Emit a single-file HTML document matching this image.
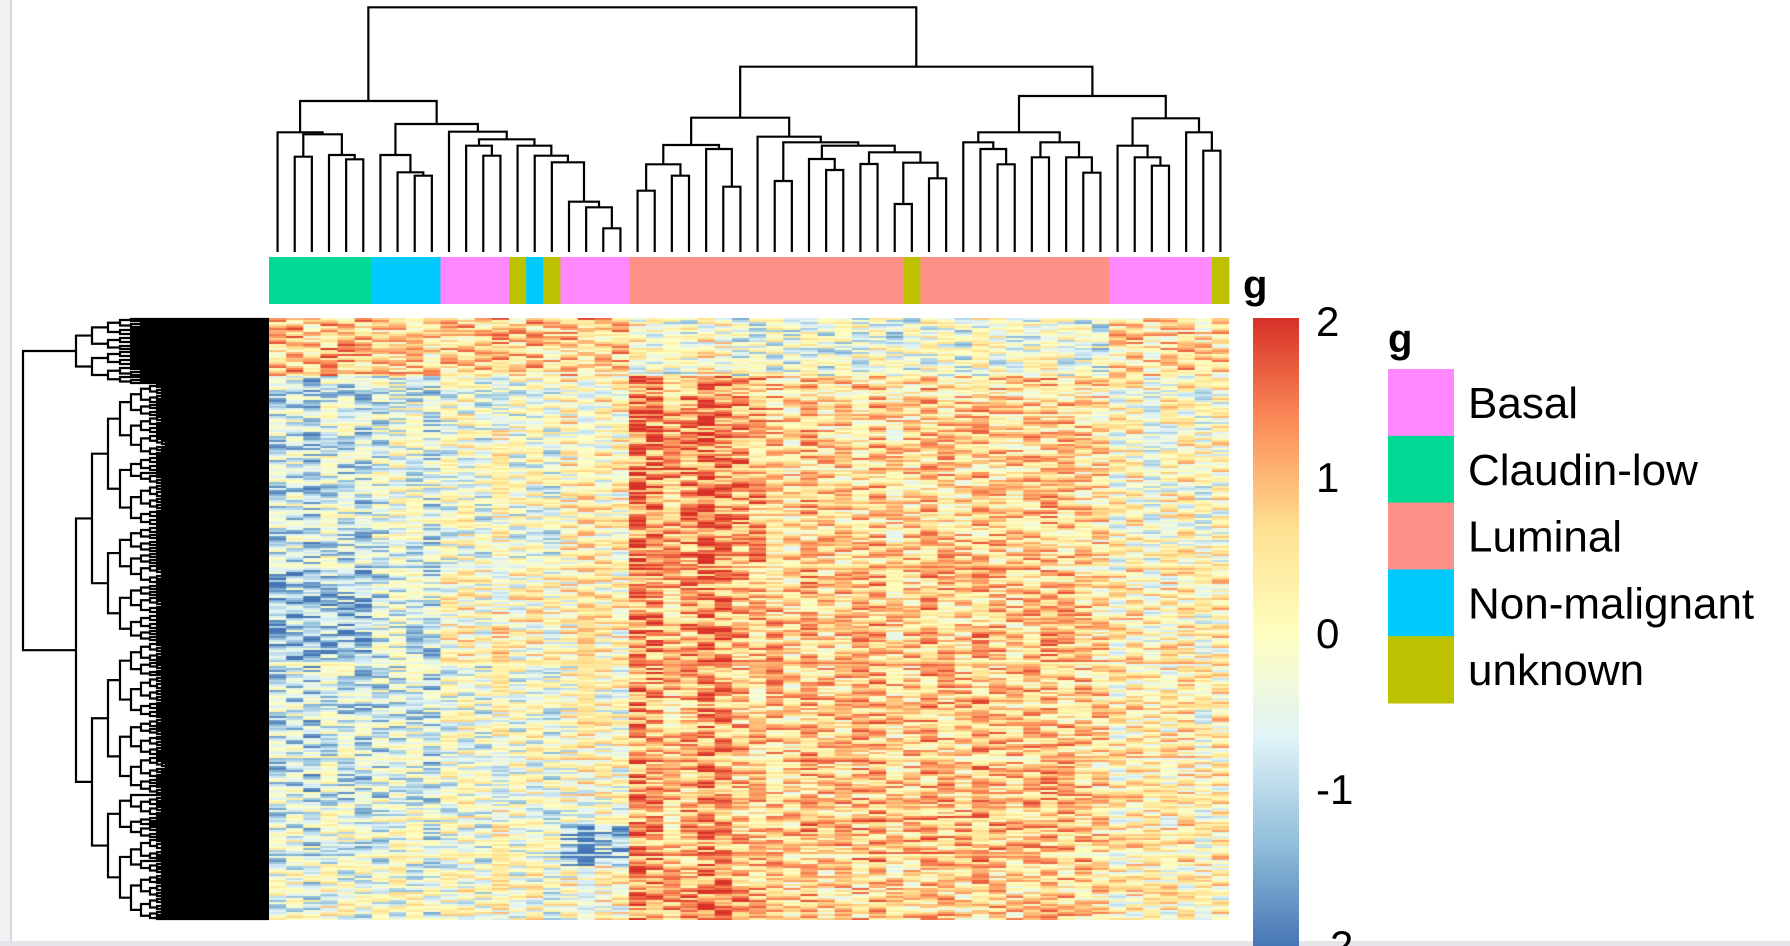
<!DOCTYPE html>
<html><head><meta charset="utf-8">
<style>
html,body{margin:0;padding:0;background:#fff;}
#wrap{position:relative;width:1790px;height:946px;overflow:hidden;background:#fff;font-family:"Liberation Sans",sans-serif;}
svg text{font-family:"Liberation Sans",sans-serif;}
</style></head>
<body>
<div id="wrap">
<canvas id="hm" width="960" height="602" style="position:absolute;left:269px;top:318px;"></canvas>
<svg id="sv" width="1790" height="946" style="position:absolute;left:0;top:0;">
  <defs>
    <linearGradient id="cbg" x1="0" y1="1" x2="0" y2="0">
      <stop offset="0" stop-color="#4575B4"/>
      <stop offset="0.1667" stop-color="#91BFDB"/>
      <stop offset="0.3333" stop-color="#E0F3F8"/>
      <stop offset="0.5" stop-color="#FFFFBF"/>
      <stop offset="0.6667" stop-color="#FEE090"/>
      <stop offset="0.8333" stop-color="#FC8D59"/>
      <stop offset="1" stop-color="#D73027"/>
    </linearGradient>
  </defs>
  <rect x="0" y="0" width="11" height="946" fill="#f1f2f4"/>
  <rect x="10" y="0" width="2" height="946" fill="#d6d7da"/>
  <rect x="0" y="941" width="1790" height="5" fill="#e4e5e8"/>
  <g id="coldendro"></g>
  <g id="rowdendro"></g>
  <g id="annot"></g>
  <text x="1243" y="298" font-size="40" font-weight="bold">g</text>
  <rect x="1253" y="318" width="46" height="630" fill="url(#cbg)"/>
  <g id="cbticks"></g>
  <text x="1388" y="352" font-size="40" font-weight="bold">g</text>
  <g id="legend"></g>
</svg>
</div>
<script>
// ---------- data ----------
const groupNames = ["Basal","Claudin-low","Luminal","Non-malignant","unknown"];
const groupColors = ["#FF88FF","#00DA95","#FD9087","#00CAFF","#BDC200"];
const colAnnot = [1,1,1,1,1,1, 3,3,3,3, 0,0,0,0, 4,3,4, 0,0,0,0,
  2,2,2,2,2,2,2,2,2,2,2,2,2,2,2,2, 4, 2,2,2,2,2,2,2,2,2,2,2, 0,0,0,0,0,0, 4];
const colCluster = ["A","A","A","A","A","A","B1","B1","B1","B1","B2","B2","B2","B2","B2","B2","B2","B3","B3","B3","B3",
  "C","C","C","C","C","C","C","C","D","D","D","D","D","D","D","D","D","D","D","D","D","D","D","D","D","D","D","D",
  "E","E","E","E","E","E","E"];
const colBoost = [0,0.1,-0.1,0.2,0.1,0,  -0.1,0.1,0,-0.2, 0,0.1,-0.1,0.2,0,0.1,-0.1, 0,0.1,0,0,
  0.3,0.2,-0.2,0.0,0.4,0.3,-0.1,-0.2, 0.1,-0.1,0.2,0,0,0.1,0.2,-0.1,0,0.2,0.1,0,0.2,0.1,0,0.1,0.2,0.1,0,-0.1,
  0,0.1,-0.1,0,0.1,-0.2,0];
const bandEdges = [0,0.097,0.42,0.57,0.80,0.84,0.91,1];
const bandMeans = {
  A:  [0.7,-0.8,-1.3,-0.8,-0.6,-0.6,-0.4],
  B1: [0.6,-0.5,-0.6,-0.6,-0.4,-0.4,-0.3],
  B2: [0.6,-0.3,0.0,-0.3,-0.3,-0.3,-0.2],
  B3: [0.7,0.1,0.1,-0.1,-0.2,-1.2,0.0],
  C:  [-0.3,1.1,0.9,0.8,0.8,0.8,1.0],
  D:  [-0.4,0.5,0.6,0.6,0.7,0.7,0.5],
  E:  [0.5,0.0,0.2,0.2,0.2,0.2,0.1]
};
const stripe = [0.5,-0.3,0.8,-0.6,0.1,0.9,-0.9,0.3,-0.2,0.6,-0.7,0.2,0.4,-0.4,1.0,-0.1,-0.8,0.7,0.0,-0.5,0.3,-1.0,0.5];
const cbTicks = [2,1,0,-1,-2];
const colTree = [22,
  [303,
    [397,0,[403,[470,1,2],[465,3,[478,4,5]]]],
    [372,
      [465,6,[517,7,[527,8,9]]],
      [395,10,[418,[437,11,[467,12,13]],[437,14,[467,15,[487,16,[605,17,[622,18,[685,19,20]]]]]]]]]],
  [200,
    [353,
      [435,[493,[572,21,22],[527,23,24]],[447,25,[560,26,27]]],
      [410,28,[427,[543,29,30],[437,[477,31,[510,32,33]],[457,[492,34,35],[488,[612,36,37],[535,38,39]]]]]]],
    [288,
      [397,[427,40,[447,41,[493,42,43]]],[427,[472,44,45],[472,46,[518,47,48]]]],
      [355,[437,49,[472,50,[497,51,52]]],[397,53,[452,54,55]]]]]];
const rowSplits = [0.11,0.48,0.55,0.5,0.45,0.6,0.5,0.4,0.55,0.5,0.45,0.5,0.6,0.5,0.35,0.5];
const rowDepthX = [23,76,92,108,120,131,141,150,157,162,166,168];

// ---------- geometry ----------
const NS="http://www.w3.org/2000/svg";
const hx0=269, hx1=1229, hy0=318, hy1=920, nCols=56, nRows=301;
const cw=(hx1-hx0)/nCols, rh=(hy1-hy0)/nRows;
function xCol(i){return hx0+(i+0.5)*cw;}
function yH(z){return z/3;}
const leafY=252;
function mk(tag,attrs,parent){const e=document.createElementNS(NS,tag);for(const k in attrs)e.setAttribute(k,attrs[k]);parent.appendChild(e);return e;}
function colorScale(v){
  const stops=["#4575B4","#91BFDB","#E0F3F8","#FFFFBF","#FEE090","#FC8D59","#D73027"];
  let t=(v+2)/4; t=Math.max(0,Math.min(1,t))*6;
  const i=Math.min(5,Math.floor(t)), f=t-i;
  const a=parseInt(stops[i].slice(1),16), b=parseInt(stops[i+1].slice(1),16);
  const r=Math.round(((a>>16)&255)*(1-f)+((b>>16)&255)*f);
  const g=Math.round(((a>>8)&255)*(1-f)+((b>>8)&255)*f);
  const bl=Math.round((a&255)*(1-f)+(b&255)*f);
  return "rgb("+r+","+g+","+bl+")";
}
// ---------- heatmap ----------
const ctx=document.getElementById('hm').getContext('2d');
for(let r=0;r<nRows;r++){
  const fr=(r+0.5)/nRows; let b=0;
  while(b<bandEdges.length-2 && fr>=bandEdges[b+1]) b++;
  for(let c=0;c<nCols;c++){
    const m=bandMeans[colCluster[c]][b];
    const s=stripe[(r*5+c*11+Math.floor(r/3)*c+Math.floor(r/7)*(c%5))%stripe.length];
    const v=m+colBoost[c]+1.05*s;
    ctx.fillStyle=colorScale(v);
    ctx.fillRect(c*cw,r*rh,cw+0.5,rh+0.5);
  }
}
// ---------- annotation ----------
const ann=document.getElementById('annot');
colAnnot.forEach((g,i)=>{
  const el=mk('rect',{x:hx0+i*cw,y:257,width:cw+0.4,height:47,fill:groupColors[g]},ann);
  
  
});
// ---------- column dendrogram ----------
const cd=document.getElementById('coldendro');
function drawCol(node){
  if(typeof node==="number") return {x:xCol(node),y:leafY};
  const l=drawCol(node[1]), r=drawCol(node[2]); const y=yH(node[0]);
  const p=mk('path',{d:`M${l.x},${l.y}V${y}H${r.x}V${r.y}`,fill:"none",stroke:"#000","stroke-width":2.2},cd);
  
  
  return {x:(l.x+r.x)/2,y:y};
}
drawCol(colTree);
// ---------- row dendrogram ----------
const rd=document.getElementById('rowdendro');
let segs=[];
let splitIdx=0;
function drawRow(lo,hi,depth){
  if(hi-lo<=1) return {x:269,y:hy0+(lo+0.5)*rh};
  const x=depth<rowDepthX.length?rowDepthX[depth]:rowDepthX[rowDepthX.length-1]+(depth-rowDepthX.length+1)*4;
  const f=rowSplits[(splitIdx++)%rowSplits.length];
  let mid=lo+Math.max(1,Math.min(hi-lo-1,Math.round((hi-lo)*f)));
  const a=drawRow(lo,mid,depth+1), b=drawRow(mid,hi,depth+1);
  segs.push(`M${a.x},${a.y}H${x}V${b.y}H${b.x}`);
  return {x:x,y:(a.y+b.y)/2};
}
drawRow(0,nRows,0);
const rp=mk('path',{d:segs.join(''),fill:"none",stroke:"#000","stroke-width":2.2},rd);


// ---------- colorbar ticks ----------
const cbt=document.getElementById('cbticks');
cbTicks.forEach(v=>{
  const y=321+(2-v)*156;
  const t=mk('text',{x:1316,y:y+15,"font-size":42,fill:"#000"},cbt);
  t.textContent=String(v);
  
  
});
// ---------- legend ----------
const lg=document.getElementById('legend');
groupNames.forEach((n,i)=>{
  const y=369+i*66.8;
  const r=mk('rect',{x:1388,y:y,width:66,height:67.3,fill:groupColors[i]},lg);
  
  
  const t=mk('text',{x:1468,y:y+49,"font-size":44,fill:"#000"},lg);
  t.textContent=n;
  
  
});
</script>
</body></html>
